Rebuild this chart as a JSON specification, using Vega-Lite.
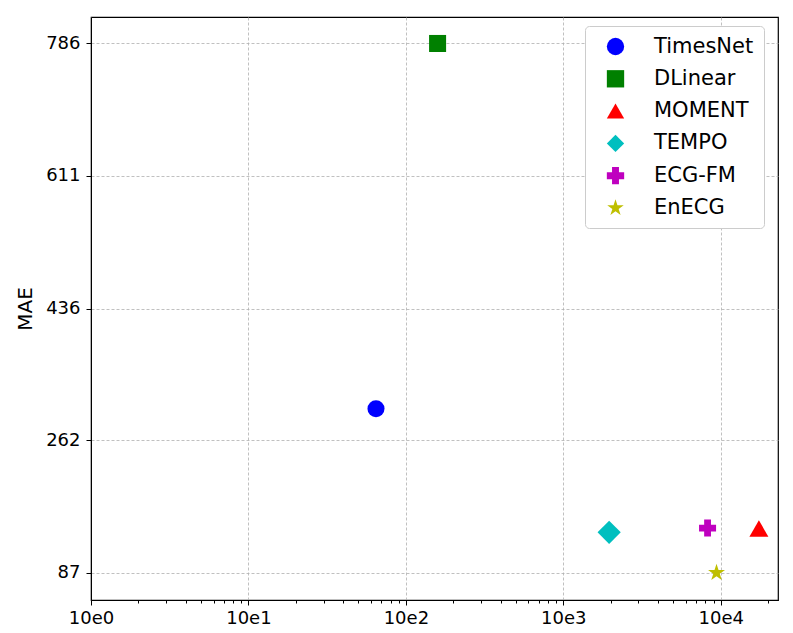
{
  "$schema": "https://vega.github.io/schema/vega-lite/v6.json",
  "autosize": "none",
  "width": 687,
  "height": 583,
  "padding": {"left": 91, "top": 17, "right": 15, "bottom": 33},
  "background": "white",
  "config": {
    "font": "DejaVu Sans",
    "view": {"stroke": "black", "strokeWidth": 1.2},
    "axis": {
      "domainColor": "black",
      "tickColor": "black",
      "labelColor": "black",
      "titleColor": "black",
      "gridColor": "#b0b0b0",
      "gridDash": [3, 2],
      "gridWidth": 0.8,
      "labelFont": "DejaVu Sans",
      "titleFont": "DejaVu Sans",
      "titleFontWeight": "normal"
    }
  },
  "data": {
    "values": [
      {"model": "TimesNet", "params": 64.6, "mae": 303.5},
      {"model": "DLinear", "params": 159, "mae": 786},
      {"model": "MOMENT", "params": 17470, "mae": 145.5},
      {"model": "TEMPO", "params": 1955, "mae": 140.5},
      {"model": "ECG-FM", "params": 8245, "mae": 146},
      {"model": "EnECG", "params": 9400, "mae": 87}
    ]
  },
  "mark": {"type": "point", "filled": true, "opacity": 1},
  "encoding": {
    "x": {
      "field": "params",
      "type": "quantitative",
      "scale": {"type": "log", "domain": [1, 23100], "nice": false},
      "axis": {
        "orient": "bottom",
        "title": null,
        "values": [1, 2, 3, 4, 5, 6, 7, 8, 9, 10, 20, 30, 40, 50, 60, 70, 80, 90, 100, 200, 300, 400, 500, 600, 700, 800, 900, 1000, 2000, 3000, 4000, 5000, 6000, 7000, 8000, 9000, 10000, 20000],
        "labelExpr": "abs(log(datum.value)/LN10 - round(log(datum.value)/LN10)) < 0.001 ? '10e' + round(log(datum.value)/LN10) : ''",
        "labelFontSize": 18,
        "labelPadding": 4,
        "labelFlush": false,
        "tickSize": {"condition": {"test": "abs(log(datum.value)/LN10 - round(log(datum.value)/LN10)) < 0.001", "value": 5}, "value": 3},
        "gridOpacity": {"condition": {"test": "abs(log(datum.value)/LN10 - round(log(datum.value)/LN10)) < 0.001", "value": 1}, "value": 0},
        "tickWidth": 1
      }
    },
    "y": {
      "field": "mae",
      "type": "quantitative",
      "scale": {"domain": [51.05, 820.95], "nice": false, "zero": false},
      "axis": {
        "title": "MAE",
        "values": [87, 262, 436, 611, 786],
        "labelFontSize": 18,
        "labelPadding": 6,
        "tickSize": 5,
        "titleFontSize": 20,
        "titleX": -66,
        "titleY": 291.5,
        "titleAngle": -90,
        "titleAlign": "center",
        "titleBaseline": "middle"
      }
    },
    "color": {
      "field": "model",
      "type": "nominal",
      "scale": {
        "domain": ["TimesNet", "DLinear", "MOMENT", "TEMPO", "ECG-FM", "EnECG"],
        "range": ["#0000ff", "#008000", "#ff0000", "#00bfbf", "#bf00bf", "#bfbf00"]
      },
      "legend": {
        "title": null,
        "orient": "none",
        "legendX": 494,
        "legendY": 9,
        "labelFontSize": 21,
        "labelFont": "DejaVu Sans",
        "labelColor": "black",
        "strokeColor": "#cccccc",
        "fillColor": "white",
        "cornerRadius": 4,
        "padding": 10,
        "rowPadding": 10.3,
        "labelOffset": 28,
        "symbolOffset": 10,
        "symbolSize": 300,
        "encoding": {
          "symbols": {
            "update": {
              "size": {"signal": "datum.value === 'TEMPO' ? 540 : datum.value === 'MOMENT' ? 340 : 300"}
            }
          }
        }
      }
    },
    "shape": {
      "field": "model",
      "type": "nominal",
      "scale": {
        "domain": ["TimesNet", "DLinear", "MOMENT", "TEMPO", "ECG-FM", "EnECG"],
        "range": ["circle", "square", "triangle-up", "diamond", "cross", "M0,-1L0.2245,-0.309L0.9511,-0.309L0.3633,0.118L0.5878,0.809L0,0.382L-0.5878,0.809L-0.3633,0.118L-0.9511,-0.309L-0.2245,-0.309Z"]
      }
    },
    "size": {
      "condition": [
        {"test": "datum.model === 'TEMPO'", "value": 540},
        {"test": "datum.model === 'MOMENT'", "value": 360},
        {"test": "datum.model === 'EnECG'", "value": 320}
      ],
      "value": 290
    }
  }
}
